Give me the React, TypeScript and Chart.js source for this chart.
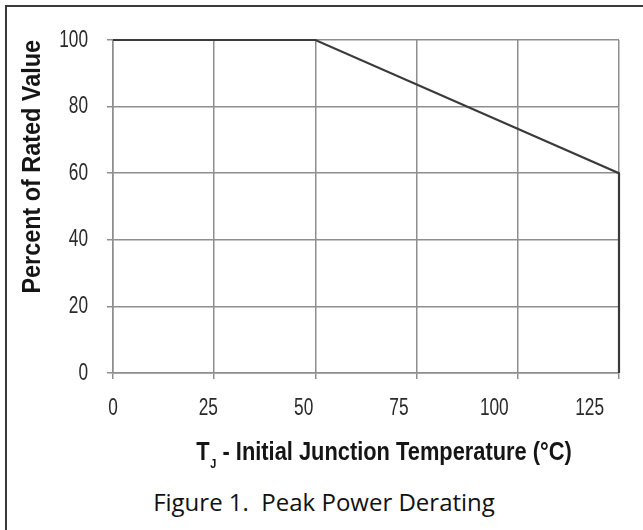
import React, { useEffect, useRef } from 'react';
import { Chart, registerables } from 'chart.js';

Chart.register(...registerables);

// ---- data ----
const junctionTempC = [0, 50, 125, 125];
const percentOfRated = [100, 100, 60, 0];

const xMin = 0;
const xMax = 125;
const xStep = 25;
const yMin = 0;
const yMax = 100;
const yStep = 20;
// the printed tick labels are spaced a little tighter than the grid
const xLabelAxisMax = 132.7;

const yTitle = 'Percent of Rated Value';
const xTitleMain = 'T';
const xTitleSub = 'J';
const xTitleRest = ' - Initial Junction Temperature (°C)';
const caption = 'Figure 1.  Peak Power Derating';

const SANS = '"Liberation Sans", Arial, Helvetica, sans-serif';
const GRID = '#8e8e8e';

// horizontal condensing of the (condensed) reference lettering
const TICK_SX = 0.72;
const YTITLE_SX = 0.9;
const XTITLE_SX = 0.84;

const condensedTextPlugin = {
  id: 'condensedText',
  beforeDraw(chart: any) {
    const ctx = chart.ctx;
    if (!ctx.__origFillText) {
      ctx.__origFillText = ctx.fillText;
    }
    const orig = ctx.__origFillText;
    ctx.fillText = function (text: string, x: number, y: number, maxWidth?: number) {
      const sx = /bold/.test(this.font) ? YTITLE_SX : TICK_SX;
      this.save();
      this.translate(x, y);
      this.scale(sx, 1);
      if (maxWidth === undefined) orig.call(this, text, 0, 0);
      else orig.call(this, text, 0, 0, maxWidth / sx);
      this.restore();
    };
  },
  afterDraw(chart: any) {
    const { ctx, chartArea } = chart;
    if (ctx.__origFillText) ctx.fillText = ctx.__origFillText;

    // x-axis title with subscript J
    const big = `bold 26px ${SANS}`;
    const small = `bold 13px ${SANS}`;
    ctx.save();
    ctx.fillStyle = '#151515';
    ctx.textAlign = 'left';
    ctx.textBaseline = 'alphabetic';
    ctx.font = big;
    const wT = ctx.measureText(xTitleMain).width;
    const wR = ctx.measureText(xTitleRest).width;
    ctx.font = small;
    const wJ = ctx.measureText(xTitleSub).width;
    const total = (wT + 1 + wJ + wR) * XTITLE_SX;
    const cx = (chartArea.left + chartArea.right) / 2 + 18;
    const baseY = chartArea.bottom + 87;
    ctx.translate(cx - total / 2, baseY);
    ctx.scale(XTITLE_SX, 1);
    let x = 0;
    ctx.font = big;
    ctx.fillText(xTitleMain, x, 0);
    x += wT + 1;
    ctx.font = small;
    ctx.fillText(xTitleSub, x, 8);
    x += wJ;
    ctx.font = big;
    ctx.fillText(xTitleRest, x, 0);
    ctx.restore();
  },
};

export default function App() {
  const canvasRef = useRef<HTMLCanvasElement | null>(null);

  useEffect(() => {
    if (!canvasRef.current) return;
    const points = junctionTempC.map((t, i) => ({ x: t, y: percentOfRated[i] }));
    const chart = new Chart(canvasRef.current, {
      type: 'scatter',
      data: {
        datasets: [
          {
            data: points,
            showLine: true,
            borderColor: '#3a3a3a',
            borderWidth: 2.2,
            pointRadius: 0,
            fill: false,
            clip: 6,
          } as any,
        ],
      },
      options: {
        animation: false,
        responsive: false,
        maintainAspectRatio: false,
        layout: { padding: { left: 8, top: 40, right: 24, bottom: 51 } },
        plugins: {
          legend: { display: false },
          tooltip: { enabled: false },
          title: { display: false },
        },
        scales: {
          x: {
            type: 'linear',
            position: 'bottom',
            min: xMin,
            max: xMax,
            ticks: { stepSize: xStep, display: false },
            grid: { color: GRID, lineWidth: 1.5, tickLength: 6, drawTicks: true },
            border: { color: GRID, width: 1.5 },
            afterFit: (s: any) => {
              s.height = 6;
            },
          },
          xLabels: {
            type: 'linear',
            position: 'bottom',
            min: xMin,
            max: xLabelAxisMax,
            grid: { display: false, drawTicks: false, tickLength: 0 },
            border: { display: false },
            ticks: {
              stepSize: xStep,
              includeBounds: false,
              padding: 15,
              color: '#2a2a2a',
              font: { family: SANS, size: 24, lineHeight: 1.2 },
              maxRotation: 0,
              autoSkip: false,
            },
            afterFit: (s: any) => {
              s.height = 100;
            },
          },
          y: {
            type: 'linear',
            min: yMin,
            max: yMax,
            ticks: {
              stepSize: yStep,
              padding: 19,
              color: '#2a2a2a',
              font: { family: SANS, size: 24, lineHeight: 1.2 },
            },
            grid: { color: GRID, lineWidth: 1.5, tickLength: 6 },
            border: { color: GRID, width: 1.5 },
            title: {
              display: true,
              text: yTitle,
              align: 'end',
              color: '#151515',
              padding: { top: 9, bottom: 0 },
              font: { family: SANS, size: 26, weight: 'bold', lineHeight: 1.2 },
            },
            afterFit: (s: any) => {
              s.width = 105;
            },
          },
        },
      } as any,
      plugins: [condensedTextPlugin],
    });
    return () => chart.destroy();
  }, []);

  return (
    <div style={{ position: 'absolute', left: 0, top: 0, width: 643, height: 530, overflow: 'hidden', background: '#fff' }}>
      <div
        style={{
          position: 'absolute',
          left: 5,
          top: 5,
          width: 700,
          height: 600,
          borderTop: '2px solid #3a3a3a',
          borderLeft: '2px solid #3a3a3a',
        }}
      />
      <div
        style={{
          position: 'absolute',
          left: 0,
          top: 490,
          width: 648,
          textAlign: 'center',
          fontFamily: '"Open Sans", "Noto Sans", sans-serif',
          fontSize: 24,
          lineHeight: '24px',
          color: '#111',
          whiteSpace: 'pre',
        }}
      >
        {caption}
      </div>
      <canvas ref={canvasRef} width={643} height={530} style={{ position: 'absolute', left: 0, top: 0, display: 'block' }} />
    </div>
  );
}
